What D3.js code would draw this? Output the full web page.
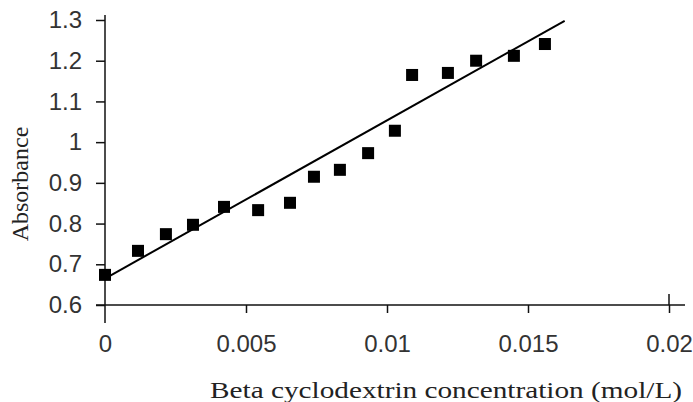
<!DOCTYPE html>
<html>
<head>
<meta charset="utf-8">
<script src="https://cdn.jsdelivr.net/npm/d3@7"></script>
<style>
  body { margin: 0; background: #fff; }
  .tick text { font-family: "Liberation Sans", Arial, sans-serif; font-size: 24px; fill: #333; }
  .title { font-family: "Liberation Serif", "Times New Roman", serif; fill: #222; }
</style>
</head>
<body>
<div id="chart"></div>
<script>
// data
const concentration = [0, 0.00117, 0.00216, 0.00312, 0.00422, 0.00543, 0.00656, 0.00741,
  0.00833, 0.00933, 0.01028, 0.01089, 0.01216, 0.01316, 0.0145, 0.0156];
const absorbance = [0.674, 0.733, 0.774, 0.797, 0.841, 0.833, 0.851, 0.915,
  0.932, 0.973, 1.028, 1.165, 1.170, 1.200, 1.212, 1.241];
// trend line end points
const trendX = [0, 0.0163];
const trendY = [0.665, 1.298];
const xTicks = [0, 0.005, 0.01, 0.015, 0.02];
const yTicks = [0.6, 0.7, 0.8, 0.9, 1.0, 1.1, 1.2, 1.3];

const width = 693, height = 402;

const svg = d3.select("#chart").append("svg")
    .attr("width", width)
    .attr("height", height);

const x = d3.scaleLinear().domain([0, 0.02]).range([105, 669]);
const y = d3.scaleLinear().domain([0.6, 1.3]).range([305, 20]);

// y axis
const yAxis = svg.append("g")
    .attr("transform", "translate(105,0)")
    .call(d3.axisLeft(y).tickValues(yTicks).tickSize(9).tickSizeOuter(0).tickPadding(14)
        .tickFormat(d => d3.format("")(+d.toFixed(1))));
yAxis.select(".domain").remove();
yAxis.selectAll(".tick line").attr("stroke", "#111").attr("stroke-width", 1.5);

// x axis
const xAxis = svg.append("g")
    .attr("transform", "translate(0,305)")
    .call(d3.axisBottom(x).tickValues(xTicks).tickSize(8).tickSizeOuter(0).tickPadding(22)
        .tickFormat(d => d3.format("")(d)));
xAxis.select(".domain").remove();
xAxis.selectAll(".tick line").attr("stroke", "#111").attr("stroke-width", 1.5);
xAxis.selectAll(".tick").filter(d => d === 0).select("line").remove();

// axis lines
svg.append("line")
    .attr("x1", x(0)).attr("x2", x(0))
    .attr("y1", 15).attr("y2", 323)
    .attr("stroke", "#111").attr("stroke-width", 1.5);
svg.append("line")
    .attr("x1", 96).attr("x2", 685)
    .attr("y1", y(0.6)).attr("y2", y(0.6))
    .attr("stroke", "#111").attr("stroke-width", 1.5);
// end tick crosses the axis
svg.append("line")
    .attr("x1", x(0.02)).attr("x2", x(0.02))
    .attr("y1", y(0.6) - 11).attr("y2", y(0.6))
    .attr("stroke", "#111").attr("stroke-width", 1.5);

// trend line
svg.append("line")
    .attr("x1", x(trendX[0])).attr("y1", y(trendY[0]))
    .attr("x2", x(trendX[1])).attr("y2", y(trendY[1]))
    .attr("stroke", "#000").attr("stroke-width", 2);

// markers
const s = 12;
svg.selectAll("rect.pt")
    .data(concentration)
    .enter().append("rect")
    .attr("class", "pt")
    .attr("x", (d, i) => x(d) - s / 2)
    .attr("y", (d, i) => y(absorbance[i]) - s / 2)
    .attr("width", s).attr("height", s)
    .attr("fill", "#000");

// titles
svg.append("text")
    .attr("class", "title")
    .attr("x", 210).attr("y", 398)
    .attr("textLength", 472)
    .attr("lengthAdjust", "spacingAndGlyphs")
    .style("font-size", "24px")
    .text("Beta cyclodextrin concentration (mol/L)");

svg.append("text")
    .attr("class", "title")
    .attr("transform", "translate(28,184) rotate(-90)")
    .attr("text-anchor", "middle")
    .style("font-size", "24px")
    .text("Absorbance");
</script>
</body>
</html>
